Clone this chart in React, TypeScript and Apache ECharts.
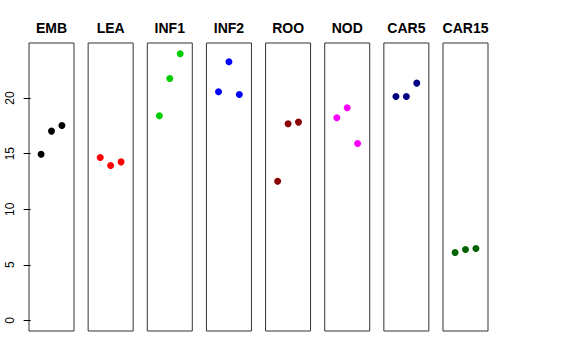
import React, { useEffect, useRef } from "react";
import * as echarts from "echarts";

const categories = ["EMB", "LEA", "INF1", "INF2", "ROO", "NOD", "CAR5", "CAR15"];
const colors = ["#000000", "#FF0000", "#00CD00", "#0000FF", "#8B0000", "#FF00FF", "#000080", "#006400"];
const replicateX = [1, 2, 3];
const values: number[][] = [
  [14.95, 17.03, 17.54],
  [14.66, 13.94, 14.26],
  [18.41, 21.77, 23.99],
  [20.57, 23.27, 20.33],
  [12.52, 17.69, 17.84],
  [18.23, 19.13, 15.92],
  [20.15, 20.15, 21.35],
  [6.1, 6.37, 6.46],
];
const yTicks = [0, 5, 10, 15, 20];

export default function App() {
  const ref = useRef<HTMLDivElement>(null);
  useEffect(() => {
    if (!ref.current) return;
    const chart = echarts.init(ref.current, null, { renderer: "svg" });
    const left0 = 29;
    const pitch = (443 - 29) / 7;
    const w = 45;
    const top = 43;
    const h = 288;
    const font = "Liberation Sans, Arial, Helvetica, sans-serif";
    const grids = categories.map((_, i) => ({
      left: left0 + i * pitch,
      top,
      width: w,
      height: h,
      show: true,
      borderColor: "#333",
      borderWidth: 1,
      backgroundColor: "transparent",
    }));
    const xAxes = categories.map((_, i) => ({
      type: "value",
      gridIndex: i,
      min: -0.16,
      max: 4.16,
      show: false,
    }));
    const yAxes = categories.map((_, i) => ({
      type: "value",
      gridIndex: i,
      min: -0.96,
      max: 24.96,
      show: i === 0,
      splitLine: { show: false },
      axisLine: { show: false },
      axisTick: {
        show: i === 0,
        length: 7,
        customValues: yTicks,
        lineStyle: { color: "#000" },
      },
      axisLabel: {
        show: i === 0,
        customValues: yTicks,
        rotate: 90,
        margin: 13,
        fontSize: 12,
        color: "#000",
        fontFamily: font,
      },
    }));
    const series = categories.map((c, i) => ({
      type: "scatter",
      name: c,
      xAxisIndex: i,
      yAxisIndex: i,
      symbol: "circle",
      symbolSize: 7,
      itemStyle: { color: colors[i], opacity: 1 },
      data: replicateX.map((x, j) => [x, values[i][j]]),
    }));
    const titles = categories.map((c, i) => ({
      text: c,
      left: left0 + i * pitch + w / 2,
      top: 21,
      textAlign: "center",
      padding: 0,
      textStyle: { fontSize: 14, fontWeight: "bold", color: "#000", fontFamily: font },
    }));
    chart.setOption({
      animation: false,
      backgroundColor: "#fff",
      title: titles,
      grid: grids,
      xAxis: xAxes,
      yAxis: yAxes,
      series,
    } as any);
    return () => chart.dispose();
  }, []);
  return (
    <div
      ref={ref}
      style={{ position: "fixed", left: 0, top: 0, width: 576, height: 360 }}
    />
  );
}
